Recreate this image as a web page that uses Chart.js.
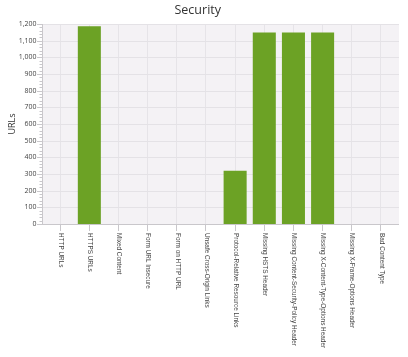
<!DOCTYPE html>
<html>
<head>
<meta charset="utf-8">
<script src="https://cdn.jsdelivr.net/npm/chart.js@4/dist/chart.umd.min.js"></script>
<style>
html,body{margin:0;padding:0;background:#fff;}
#c{display:block;}
</style>
</head>
<body>
<canvas id="c" width="408" height="357"></canvas>
<script>
const categories = [
  "HTTP URLs",
  "HTTPS URLs",
  "Mixed Content",
  "Form URL Insecure",
  "Form on HTTP URL",
  "Unsafe Cross-Origin Links",
  "Protocol-Relative Resource Links",
  "Missing HSTS Header",
  "Missing Content-Security-Policy Header",
  "Missing X-Content-Type-Options Header",
  "Missing X-Frame-Options Header",
  "Bad Content Type"
];
const urlCounts = [0, 1187, 0, 0, 0, 0, 319, 1149, 1149, 1149, 0, 0];
const yTicks = [0, 100, 200, 300, 400, 500, 600, 700, 800, 900, 1000, 1100, 1200];

const FONT = "'Open Sans', 'Noto Sans', sans-serif";
const LABEL_FONT = "'Liberation Sans', Arial, sans-serif";
const BG_LEFT = 42, BG_RIGHT = 399;

const decor = {
  id: 'decor',
  beforeDraw(chart) {
    const {ctx, scales} = chart;
    const y = scales.y;
    ctx.save();
    ctx.fillStyle = '#f4f2f5';
    ctx.fillRect(BG_LEFT, y.getPixelForValue(1200), BG_RIGHT - BG_LEFT, y.getPixelForValue(0) - y.getPixelForValue(1200));
    ctx.restore();
  },
  beforeDatasetsDraw(chart) {
    const {ctx, scales} = chart;
    const y = scales.y;
    ctx.save();
    ctx.strokeStyle = '#e4e2e6';
    ctx.lineWidth = 1;
    yTicks.forEach(v => {
      const py = Math.round(y.getPixelForValue(v)) + 0.5;
      ctx.beginPath();
      ctx.moveTo(BG_LEFT, py);
      ctx.lineTo(BG_RIGHT, py);
      ctx.stroke();
    });
    ctx.restore();
  },
  afterDraw(chart) {
    const {ctx, scales} = chart;
    const x = scales.x, y = scales.y;
    const bottom = y.getPixelForValue(0);
    ctx.save();
    ctx.strokeStyle = '#c9c7cb';
    ctx.lineWidth = 1;
    ctx.beginPath();
    ctx.moveTo(BG_LEFT + 0.5, y.getPixelForValue(1200));
    ctx.lineTo(BG_LEFT + 0.5, bottom + 0.5);
    ctx.stroke();
    for (let v = 0; v <= 1200; v += 20) {
      const py = Math.round(y.getPixelForValue(v)) + 0.5;
      const major = v % 100 === 0;
      ctx.beginPath();
      ctx.moveTo(BG_LEFT - (major ? 5 : 2.5), py);
      ctx.lineTo(BG_LEFT, py);
      ctx.stroke();
    }
    ctx.beginPath();
    ctx.moveTo(BG_LEFT, Math.round(bottom) + 0.5);
    ctx.lineTo(BG_RIGHT, Math.round(bottom) + 0.5);
    ctx.stroke();
    ctx.fillStyle = '#444';
    ctx.font = "6.4px " + LABEL_FONT;
    ctx.textAlign = 'left';
    ctx.textBaseline = 'middle';
    categories.forEach((label, i) => {
      const px = x.getPixelForTick(i);
      ctx.save();
      ctx.translate(px + 0.5, bottom + 9);
      ctx.rotate(Math.PI / 2);
      ctx.fillText(label, 0, 0);
      ctx.restore();
    });
    ctx.restore();
  }
};

new Chart(document.getElementById('c'), {
  type: 'bar',
  data: {
    labels: categories,
    datasets: [{
      label: 'URLs',
      data: urlCounts,
      backgroundColor: '#6ca225',
      borderWidth: 0,
      categoryPercentage: 1.0,
      barPercentage: 0.79
    }]
  },
  options: {
    responsive: false,
    animation: false,
    devicePixelRatio: 1,
    layout: { padding: { left: 0, right: 12.5, top: 0, bottom: 0 } },
    plugins: {
      legend: { display: false },
      tooltip: { enabled: false },
      title: {
        display: true,
        text: 'Security',
        color: '#333',
        font: { family: FONT, size: 12.5, weight: 'normal' },
        padding: { top: 3, bottom: 6 }
      }
    },
    scales: {
      x: {
        type: 'category',
        offset: true,
        afterFit(s) { s.height = 133; },
        ticks: { display: false },
        border: { display: false },
        grid: {
          offset: false,
          color: '#e6e4e8',
          lineWidth: 1,
          drawTicks: true,
          tickLength: 7,
          tickColor: '#c9c7cb'
        }
      },
      y: {
        min: 0,
        max: 1200,
        afterFit(s) { s.width = 45.6; },
        afterBuildTicks(s) { s.ticks = yTicks.map(v => ({ value: v })); },
        border: { display: false },
        grid: { display: false, drawTicks: false },
        ticks: {
          color: '#444',
          font: { family: FONT, size: 7 },
          padding: 9
        },
        title: {
          display: true,
          text: 'URLs',
          color: '#333',
          font: { family: FONT, size: 9 },
          padding: { top: 7, bottom: 0 }
        }
      }
    }
  },
  plugins: [decor]
});
</script>
</body>
</html>
